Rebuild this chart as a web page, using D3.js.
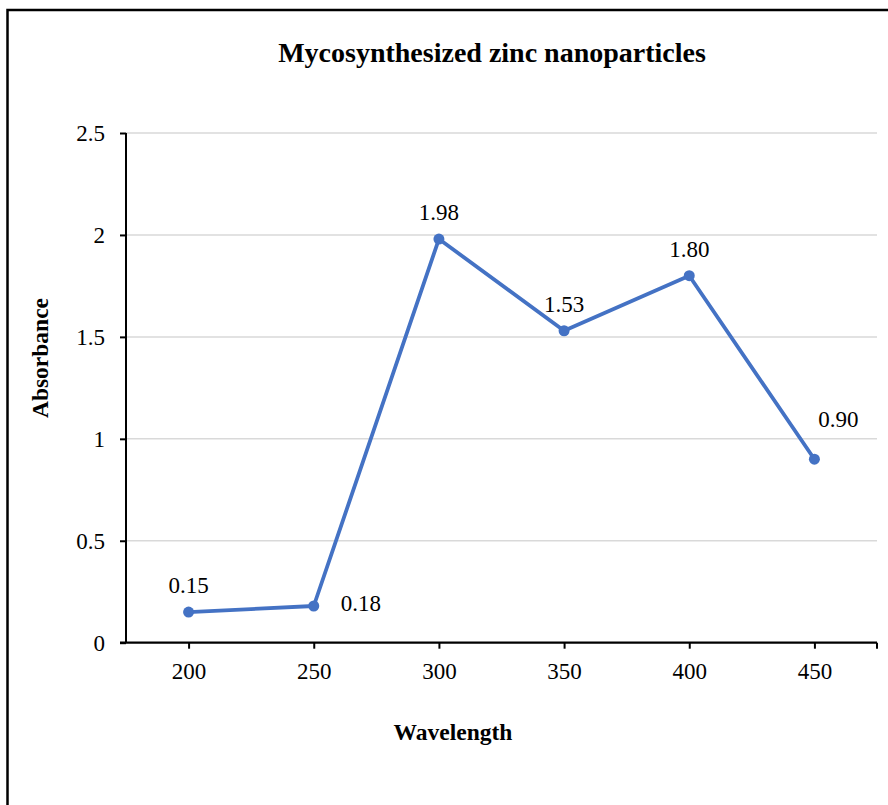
<!DOCTYPE html>
<html>
<head>
<meta charset="utf-8">
<script src="https://cdn.jsdelivr.net/npm/d3@7"></script>
<style>
  html, body { margin: 0; padding: 0; background: #fff; }
  svg text { font-family: "Liberation Serif", "Times New Roman", serif !important; }
</style>
</head>
<body>
<div id="chart"></div>
<script>
// data
const wavelengths = ['200', '250', '300', '350', '400', '450'];
const absorbance = [0.15, 0.18, 1.98, 1.53, 1.80, 0.90];
const yTicks = [0, 0.5, 1, 1.5, 2, 2.5];
// where each data label sits relative to its point
const labelPlacement = ['above', 'right', 'above', 'above', 'above', 'aboveRight'];

let width = 888,
    height = 805;

let margin = {top: 133, right: 11, bottom: 162, left: 126};

let svg = d3.select('#chart')
    .append('svg')
    .attr('width', width)
    .attr('height', height);

// outer frame of the chart area (runs off the right and bottom edge)
svg.append('rect')
    .attr('x', 7.5)
    .attr('y', 10)
    .attr('width', width + 20)
    .attr('height', height + 20)
    .attr('fill', 'none')
    .attr('stroke', '#000')
    .attr('stroke-width', 2.5);

let x = d3.scalePoint()
    .domain(wavelengths)
    .range([margin.left, width - margin.right])
    .padding(0.5);

let y = d3.scaleLinear()
    .domain([0, 2.5])
    .range([height - margin.bottom - 0.3, margin.top]);

// gridlines
svg.append('g')
    .selectAll('line')
    .data(yTicks.filter(d => d > 0))
    .enter().append('line')
    .attr('x1', margin.left)
    .attr('x2', width - margin.right)
    .attr('y1', d => y(d))
    .attr('y2', d => y(d))
    .attr('stroke', '#d9d9d9')
    .attr('stroke-width', 1.5);

// y axis
let yAxis = svg.append('g')
    .attr('transform', `translate(${margin.left},0)`)
    .call(d3.axisLeft(y).tickValues(yTicks).tickFormat(d3.format('')).tickSize(6).tickPadding(15));
yAxis.select('.domain').attr('stroke-width', 2).attr('d', `M0,${y(0)}V${y(2.5)}`);
yAxis.selectAll('.tick line').attr('stroke-width', 2);
yAxis.selectAll('text')
    .attr('font-size', 23)
    .attr('fill', '#000');

// x axis
let xAxis = svg.append('g')
    .attr('transform', `translate(0,${y(0)})`)
    .call(d3.axisBottom(x).tickSize(6).tickPadding(14));
xAxis.select('.domain').attr('stroke-width', 2.2)
    .attr('d', `M${x.range()[0] - 6},0H${x.range()[1]}`);
xAxis.selectAll('.tick line').attr('stroke-width', 2);
xAxis.selectAll('text')
    .attr('font-size', 23)
    .attr('fill', '#000');
// closing tick at the right end of the axis
xAxis.append('line')
    .attr('x1', x.range()[1])
    .attr('x2', x.range()[1])
    .attr('y1', 0)
    .attr('y2', 6)
    .attr('stroke', '#000')
    .attr('stroke-width', 2);

// series
let pts = wavelengths.map((w, i) => ({w: w, v: absorbance[i], pos: labelPlacement[i]}));

let line = d3.line()
    .x(d => x(d.w))
    .y(d => y(d.v));

svg.append('path')
    .datum(pts)
    .attr('d', line)
    .attr('fill', 'none')
    .attr('stroke', '#4472C4')
    .attr('stroke-width', 3.8)
    .attr('stroke-linejoin', 'round');

svg.append('g')
    .selectAll('circle')
    .data(pts)
    .enter().append('circle')
    .attr('cx', d => x(d.w))
    .attr('cy', d => y(d.v))
    .attr('r', 5.5)
    .attr('fill', '#4472C4');

// data labels
let offsets = {
  above: {dx: 0, dy: -19, anchor: 'middle'},
  right: {dx: 27, dy: 5, anchor: 'start'},
  aboveRight: {dx: 24, dy: -32, anchor: 'middle'}
};

svg.append('g')
    .selectAll('text')
    .data(pts)
    .enter().append('text')
    .attr('x', d => x(d.w) + offsets[d.pos].dx)
    .attr('y', d => y(d.v) + offsets[d.pos].dy)
    .attr('text-anchor', d => offsets[d.pos].anchor)
    .attr('font-size', 23)
    .attr('fill', '#000')
    .text(d => d3.format('.2f')(d.v));

// titles
svg.append('text')
    .attr('x', 492)
    .attr('y', 62)
    .attr('text-anchor', 'middle')
    .attr('font-size', 28)
    .attr('font-weight', 'bold')
    .text('Mycosynthesized zinc nanoparticles');

svg.append('text')
    .attr('x', 453)
    .attr('y', 740)
    .attr('text-anchor', 'middle')
    .attr('font-size', 23.5)
    .attr('font-weight', 'bold')
    .text('Wavelength');

svg.append('text')
    .attr('transform', 'translate(48,358) rotate(-90)')
    .attr('text-anchor', 'middle')
    .attr('font-size', 23.5)
    .attr('font-weight', 'bold')
    .text('Absorbance');
</script>
</body>
</html>
